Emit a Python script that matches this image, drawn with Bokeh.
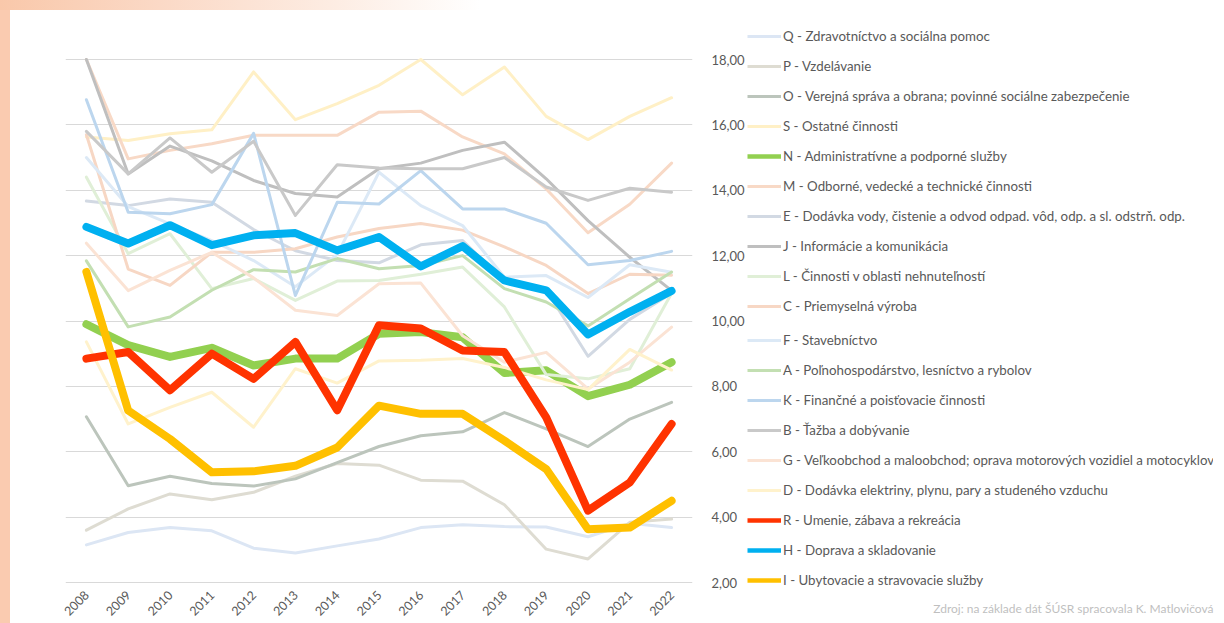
import math
from bokeh.plotting import figure
from bokeh.models import (FactorRange, Range1d, FixedTicker, CustomJSTickFormatter,
                          Legend, LegendItem, Div, Title)
from bokeh.layouts import row, column
from bokeh.embed import file_html
from bokeh.resources import INLINE

# ---------------- data ----------------
years = [str(y) for y in range(2008, 2023)]
y_ticks = [2, 4, 6, 8, 10, 12, 14, 16, 18]

Q = [3.15, 3.53, 3.68, 3.58, 3.05, 2.90, 3.12, 3.33, 3.68, 3.77, 3.71, 3.70, 3.40, 3.81, 3.68]
P = [3.60, 4.25, 4.71, 4.53, 4.76, 5.25, 5.64, 5.59, 5.13, 5.10, 4.38, 3.02, 2.72, 3.84, 3.94]
O = [7.07, 4.96, 5.25, 5.03, 4.95, 5.17, 5.67, 6.16, 6.49, 6.61, 7.20, 6.70, 6.16, 7.00, 7.51]
S = [15.63, 15.52, 15.73, 15.85, 17.62, 16.16, 16.65, 17.21, 18.00, 16.92, 17.77, 16.26, 15.55, 16.26, 16.83]
N = [9.90, 9.26, 8.90, 9.18, 8.64, 8.85, 8.85, 9.61, 9.66, 9.50, 8.41, 8.49, 7.70, 8.05, 8.74]
M = [18.00, 14.96, 15.22, 15.42, 15.68, 15.68, 15.68, 16.39, 16.42, 15.63, 15.11, 14.04, 12.70, 13.57, 14.83]
E = [13.67, 13.53, 13.73, 13.63, 12.80, 12.15, 11.85, 11.78, 12.33, 12.46, 11.22, 10.95, 8.92, 10.05, 10.85]
J = [18.00, 14.50, 15.35, 14.90, 14.30, 13.90, 13.79, 14.66, 14.83, 15.22, 15.47, 14.35, 13.07, 11.95, 10.93]
L = [14.40, 12.06, 12.67, 10.99, 11.30, 10.63, 11.22, 11.24, 11.43, 11.65, 10.43, 8.36, 8.23, 8.54, 10.85]
C = [15.70, 11.59, 11.09, 12.10, 12.10, 12.21, 12.57, 12.83, 12.98, 12.78, 12.27, 11.70, 10.84, 11.43, 11.40]
F = [15.00, 13.50, 12.97, 12.46, 11.85, 11.05, 12.03, 14.55, 13.53, 12.92, 11.34, 11.39, 10.72, 11.72, 11.49]
A = [11.84, 9.82, 10.12, 10.94, 11.57, 11.50, 11.91, 11.60, 11.70, 12.00, 10.99, 10.58, 9.85, 10.68, 11.50]
K = [16.77, 13.33, 13.28, 13.56, 15.74, 10.78, 13.63, 13.58, 14.60, 13.43, 13.43, 12.99, 11.72, 11.85, 12.13]
B = [15.80, 14.50, 15.60, 14.55, 15.50, 13.23, 14.78, 14.68, 14.66, 14.66, 15.00, 14.10, 13.69, 14.06, 13.94]
G = [12.38, 10.93, 11.55, 12.10, 11.32, 10.33, 10.17, 11.14, 11.16, 9.55, 8.74, 9.04, 7.92, 8.74, 9.81]
D = [9.36, 6.85, 7.36, 7.82, 6.75, 8.54, 8.10, 8.78, 8.80, 8.85, 8.58, 8.20, 7.90, 9.13, 8.50]
R = [8.85, 9.05, 7.88, 9.00, 8.23, 9.36, 7.27, 9.87, 9.77, 9.10, 9.05, 7.05, 4.20, 5.06, 6.85]
H = [12.88, 12.37, 12.93, 12.32, 12.62, 12.69, 12.16, 12.57, 11.67, 12.29, 11.24, 10.94, 9.59, 10.28, 10.92]
I = [11.50, 7.26, 6.39, 5.37, 5.40, 5.57, 6.13, 7.41, 7.16, 7.16, 6.34, 5.47, 3.63, 3.68, 4.50]

names = [
    "Q - Zdravotníctvo a sociálna pomoc",
    "P - Vzdelávanie",
    "O - Verejná správa a obrana; povinné sociálne zabezpečenie",
    "S - Ostatné činnosti",
    "N - Administratívne a podporné služby",
    "M - Odborné, vedecké a technické činnosti",
    "E - Dodávka vody, čistenie a odvod odpad. vôd, odp. a sl. odstrň. odp.",
    "J - Informácie a komunikácia",
    "L - Činnosti v oblasti nehnuteľností",
    "C - Priemyselná výroba",
    "F - Stavebníctvo",
    "A - Poľnohospodárstvo, lesníctvo a rybolov",
    "K - Finančné a poisťovacie činnosti",
    "B - Ťažba a dobývanie",
    "G - Veľkoobchod a maloobchod; oprava motorových vozidiel a motocyklov",
    "D - Dodávka elektriny, plynu, pary a studeného vzduchu",
    "R - Umenie, zábava a rekreácia",
    "H - Doprava a skladovanie",
    "I - Ubytovacie a stravovacie služby",
]
values = [Q, P, O, S, N, M, E, J, L, C, F, A, K, B, G, D, R, H, I]
source_text = "Zdroj: na základe dát ŠÚSR spracovala K. Matlovičová"

# ---------------- styles ----------------
colors = ["#dce6f4", "#dedcd2", "#bcc5bc", "#fff0c6", "#92d050", "#f8d9c6",
          "#d2d9e3", "#bfbfbf", "#e0efd7", "#f7d7c4", "#dce9f6", "#c3dfb2",
          "#bcd6ee", "#c9c9c9", "#fbe3d4", "#fff2cc", "#ff3300", "#00b0f0", "#ffc000"]
thick = {"N", "R", "H", "I"}
FONT = "Lato"
TXT = "#595959"

# frame spans a little more than the 2..18 band so the legend beside it is not clipped
PX_PER_UNIT = 523 / 16.0
y_lo = 2 - 9 / PX_PER_UNIT
y_hi = 18 + 37 / PX_PER_UNIT

# ---------------- chart ----------------
p = figure(width=737, height=613,
           x_range=FactorRange(factors=years), y_range=Range1d(y_lo, y_hi),
           y_axis_location="right", output_backend="svg", toolbar_location=None,
           min_border_left=55, min_border_right=52, min_border_top=12, min_border_bottom=32)
p.outline_line_color = None
p.background_fill_color = "white"
p.border_fill_color = "white"
p.xgrid.grid_line_color = None
p.ygrid.grid_line_color = "#d9d9d9"
p.ygrid.grid_line_width = 1.2

ya = p.yaxis[0]
ya.ticker = FixedTicker(ticks=y_ticks)
ya.formatter = CustomJSTickFormatter(code="return tick.toFixed(2).replace('.', ',');")
ya.axis_line_color = None
ya.major_tick_line_color = None
ya.minor_tick_line_color = None
ya.major_label_standoff = 13
ya.major_label_text_font = FONT
ya.major_label_text_font_size = "13px"
ya.major_label_text_color = TXT

xa = p.xaxis[0]
xa.axis_line_color = None
xa.major_tick_line_color = None
xa.minor_tick_line_color = None
xa.major_tick_out = 0
xa.major_label_orientation = math.pi / 4
xa.major_label_standoff = 1
xa.major_label_text_font = FONT
xa.major_label_text_font_size = "12.5px"
xa.major_label_text_color = TXT

# ---------------- legend panel ----------------
q = figure(width=477, height=613, x_range=Range1d(0, 1), y_range=Range1d(0, 1),
           x_axis_location=None, y_axis_location=None,
           output_backend="svg", toolbar_location=None,
           min_border_left=0, min_border_right=11, min_border_top=0, min_border_bottom=0)
q.outline_line_color = None
q.xgrid.visible = False
q.ygrid.visible = False
q.border_fill_color = "white"
q.background_fill_color = "white"

idx = list(range(len(years)))
items = []
for name, vals, col in zip(names, values, colors):
    key = name[0]
    lw = 8 if key in thick else 3
    p.line(x=years, y=vals, line_color=col, line_width=lw,
           line_join="round", line_cap="round")
    proxy = q.line(x=idx, y=vals, line_color=col,
                   line_width=(4.5 if key in thick else 3), visible=False)
    items.append(LegendItem(label=name, renderers=[proxy]))

def make_legend(its, loc):
    lg = Legend(items=its, location=loc, padding=0, margin=0, spacing=10,
                glyph_width=34, glyph_height=20, label_height=20, label_standoff=2,
                label_text_font=FONT, label_text_font_size="13.3px",
                label_text_color=TXT, background_fill_alpha=0,
                border_line_color=None)
    q.add_layout(lg, "center")

make_legend(items[:10], (0, 275))
make_legend(items[10:], (0, 1))

q.add_layout(Title(text=source_text, align="right", offset=0, standoff=14,
                   vertical_align="bottom", text_font=FONT, text_font_size="12px",
                   text_font_style="normal", text_color="#bfbfbf"), "below")

top_strip = Div(text="", width=1224, height=10, margin=0, sizing_mode="fixed",
                styles={"background": "linear-gradient(to right, #f9c8aa 0px, #fbd9c6 160px, #fdece2 330px, #ffffff 480px)"})
left_strip = Div(text="", width=10, height=613, margin=0, sizing_mode="fixed",
                 styles={"background": "#facbb0"})

layout = column(top_strip, row(left_strip, p, q, spacing=0), spacing=0)

open("out.html", "w").write(file_html(layout, INLINE))
